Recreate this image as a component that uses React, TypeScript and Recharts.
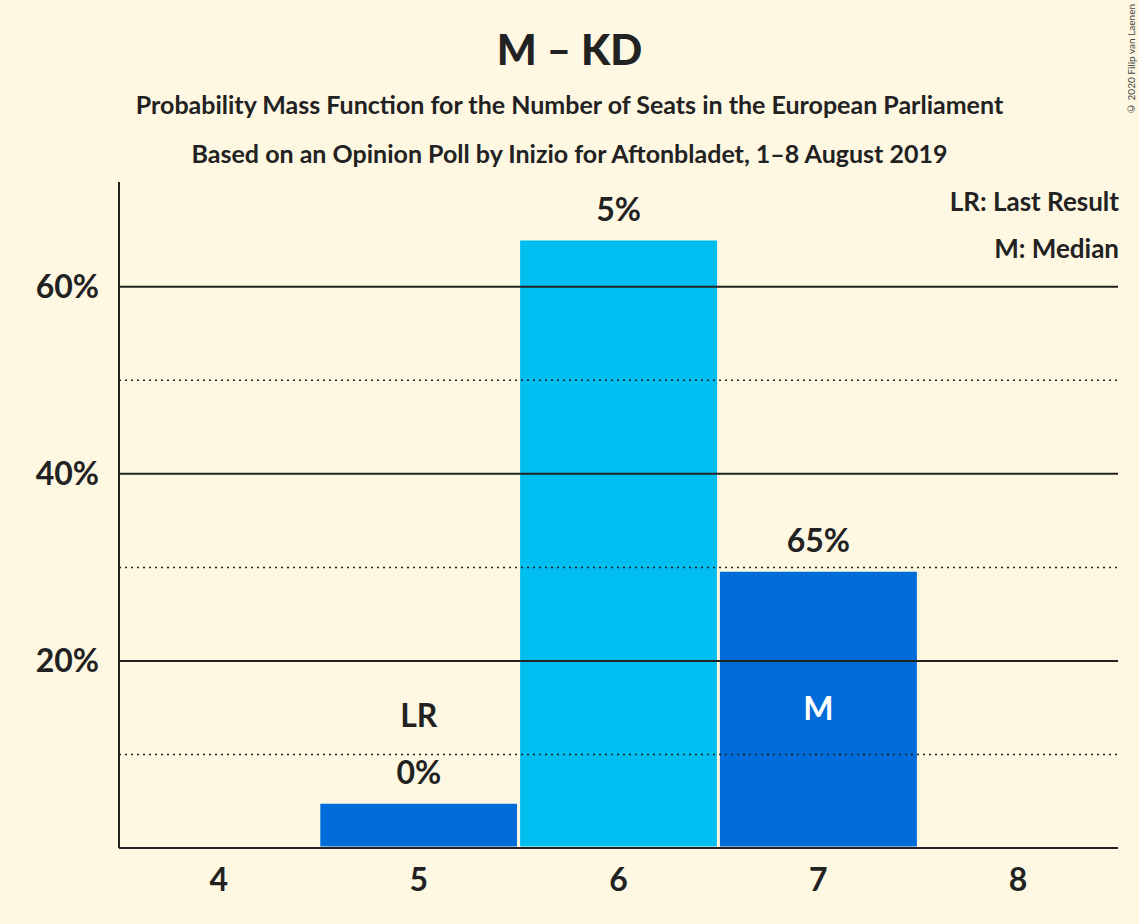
import { ComposedChart, Bar, XAxis, YAxis, ReferenceLine, LabelList, Cell } from "recharts";

const seats = ["4", "5", "6", "7", "8"];
const probabilities = [0, 4.9, 65.1, 29.7, 0];
const valueLabels = ["0%", "5%", "65%", "30%", "0%"];
const solidTicks = [20, 40, 60];
const dottedTicks = [10, 30, 50];
const medianSeat = "6";
const lastResultSeat = "4";

const BG = "#fef8e2";
const FONT = "Lato, 'Open Sans', sans-serif";

const data = seats.map((s, i) => ({ seat: s, p: probabilities[i], label: valueLabels[i] }));

const ValueLabel = (props: any) => {
  const { x, y, width, index, height } = props;
  const d = data[index];
  const cx = x + width / 2;
  const items = [
    <text key="v" x={cx} y={y - 18} textAnchor="middle" fontSize={32} fontWeight={700} fill="#222">
      {d.label}
    </text>,
  ];
  if (d.seat === medianSeat) {
    items.push(
      <text key="m" x={cx} y={y + height / 2 + 11} textAnchor="middle" fontSize={32} fontWeight={700} fill="#fff">
        M
      </text>
    );
  }
  if (d.seat === lastResultSeat) {
    items.push(
      <text key="lr" x={cx} y={y - 75} textAnchor="middle" fontSize={32} fontWeight={700} fill="#222">
        LR
      </text>
    );
  }
  return <g fontFamily={FONT}>{items}</g>;
};

export default function App() {
  return (
    <div style={{ position: "absolute", left: 0, top: 0, width: 1139, height: 924, background: BG, fontFamily: FONT }}>
      <div style={{ position: "absolute", top: 24, width: 1139, textAlign: "center", fontSize: 42, fontWeight: 900, color: "#222" }}>
        M – KD
      </div>
      <div style={{ position: "absolute", top: 89, width: 1139, textAlign: "center", fontSize: 25, fontWeight: 700, color: "#222" }}>
        Probability Mass Function for the Number of Seats in the European Parliament
      </div>
      <div style={{ position: "absolute", top: 138, width: 1139, textAlign: "center", fontSize: 25, fontWeight: 700, color: "#222" }}>
        Based on an Opinion Poll by Inizio for Aftonbladet, 1–8 August 2019
      </div>
      <div style={{ position: "absolute", top: 185, right: 20, fontSize: 26, fontWeight: 700, color: "#222" }}>LR: Last Result</div>
      <div style={{ position: "absolute", top: 232, right: 20, fontSize: 26, fontWeight: 700, color: "#222" }}>M: Median</div>
      <div
        style={{
          position: "absolute", right: 2, top: 4, fontSize: 10, color: "#444",
          writingMode: "vertical-rl", transform: "rotate(180deg)",
        }}
      >
        © 2020 Filip van Laenen
      </div>
      <ComposedChart
        width={1139}
        height={924}
        data={data}
        margin={{ top: 182, right: 21, bottom: 0, left: 0 }}
        barCategoryGap={0}
        style={{ position: "absolute", left: 0, top: 0 }}
      >
        {dottedTicks.map((t) => (
          <ReferenceLine key={"d" + t} y={t} stroke="#222" strokeWidth={1.5} strokeDasharray="2 4" />
        ))}
        {solidTicks.map((t) => (
          <ReferenceLine key={"s" + t} y={t} stroke="#222" strokeWidth={2} />
        ))}
        <XAxis
          dataKey="seat"
          height={76}
          tickLine={false}
          axisLine={{ stroke: "#222", strokeWidth: 2 }}
          tick={{ fontSize: 32, fontWeight: 700, fill: "#222", fontFamily: FONT, dy: 12 }}
        />
        <YAxis
          width={119}
          domain={[0, 71.2]}
          ticks={solidTicks}
          tickFormatter={(v) => v + "%"}
          tickLine={false}
          axisLine={{ stroke: "#222", strokeWidth: 2 }}
          tick={{ fontSize: 32, fontWeight: 700, fill: "#222", fontFamily: FONT, dx: -12 }}
        />
        <Bar dataKey="p" isAnimationActive={false} stroke={BG} strokeWidth={3}>
          {data.map((d) => (
            <Cell key={d.seat} fill={d.seat === medianSeat ? "#00bff0" : "#006cd9"} />
          ))}
          <LabelList dataKey="p" content={ValueLabel} />
        </Bar>
      </ComposedChart>
    </div>
  );
}
